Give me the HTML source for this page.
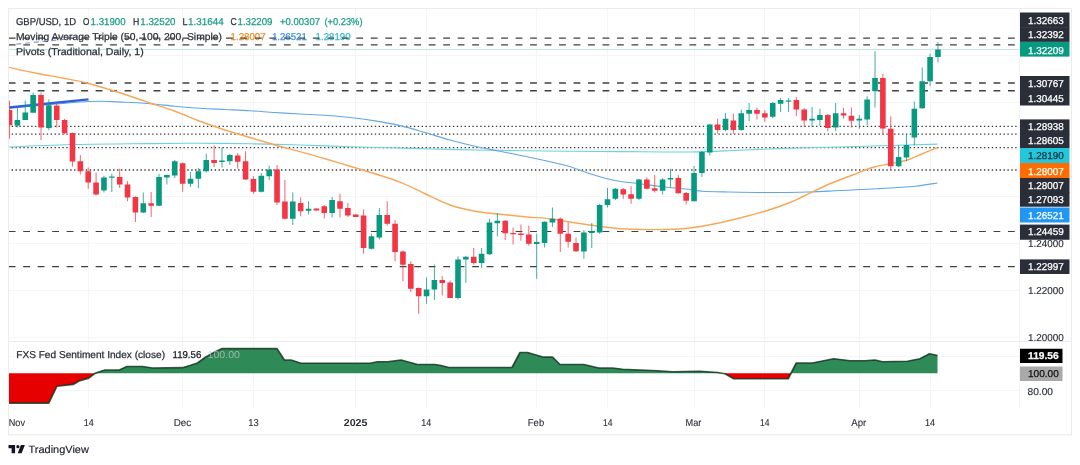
<!DOCTYPE html>
<html><head><meta charset="utf-8"><title>GBP/USD chart</title>
<style>
html,body{margin:0;padding:0;background:#fff;}
body{width:1080px;height:465px;overflow:hidden;font-family:"Liberation Sans",sans-serif;}
svg{display:block;position:absolute;left:0;top:0;will-change:transform;}
text{font-family:"Liberation Sans",sans-serif;text-rendering:geometricPrecision;}
</style></head><body>
<svg width="1080" height="465" viewBox="0 0 1080 465">
<defs><clipPath id="plot"><rect x="9" y="9" width="1010.5" height="402"/></clipPath></defs>

<g stroke="#f5f5f6" stroke-width="1" fill="none">
<path d="M88.5 9V408"/>
<path d="M182.5 9V408"/>
<path d="M253.5 9V408"/>
<path d="M355.5 9V408"/>
<path d="M426.5 9V408"/>
<path d="M536.5 9V408"/>
<path d="M607.5 9V408"/>
<path d="M694.5 9V408"/>
<path d="M764.5 9V408"/>
<path d="M859.5 9V408"/>
<path d="M930.5 9V408"/>
<path d="M9 55.5H1019"/>
<path d="M9 102.5H1019"/>
<path d="M9 149.5H1019"/>
<path d="M9 196.5H1019"/>
<path d="M9 243.5H1019"/>
<path d="M9 290.5H1019"/>
<path d="M9 337.5H1019"/>
<path d="M9 356.5H1019"/>
<path d="M9 390.5H1019"/>
</g>
<g stroke="#ececee" stroke-width="1" fill="none">
<rect x="8.5" y="8.5" width="1063" height="426.3"/>
<path d="M1019.5 9V408" stroke="#f3f3f4"/>
<path d="M9 341.5H1071"/>
</g>
<path d="M9 49.5H1019" stroke="#c4e6e1" stroke-width="1" fill="none"/>
<text x="16.00" y="25.00" font-size="10" fill="#2a2e39" font-weight="normal" text-anchor="start" stroke="#2a2e39" stroke-width="0.25" textLength="60.00" lengthAdjust="spacingAndGlyphs">GBP/USD, 1D</text>
<text x="83.10" y="25.00" font-size="10" fill="#2a2e39" font-weight="normal" text-anchor="start" stroke="#2a2e39" stroke-width="0.25" textLength="6.30" lengthAdjust="spacingAndGlyphs">O</text>
<text x="90.60" y="25.00" font-size="10" fill="#1a9c88" font-weight="normal" text-anchor="start" stroke="#1a9c88" stroke-width="0.25" textLength="35.00" lengthAdjust="spacingAndGlyphs">1.31900</text>
<text x="133.10" y="25.00" font-size="10" fill="#2a2e39" font-weight="normal" text-anchor="start" stroke="#2a2e39" stroke-width="0.25" textLength="6.30" lengthAdjust="spacingAndGlyphs">H</text>
<text x="140.25" y="25.00" font-size="10" fill="#1a9c88" font-weight="normal" text-anchor="start" stroke="#1a9c88" stroke-width="0.25" textLength="35.30" lengthAdjust="spacingAndGlyphs">1.32520</text>
<text x="182.50" y="25.00" font-size="10" fill="#2a2e39" font-weight="normal" text-anchor="start" stroke="#2a2e39" stroke-width="0.25" textLength="5.00" lengthAdjust="spacingAndGlyphs">L</text>
<text x="188.10" y="25.00" font-size="10" fill="#1a9c88" font-weight="normal" text-anchor="start" stroke="#1a9c88" stroke-width="0.25" textLength="35.60" lengthAdjust="spacingAndGlyphs">1.31644</text>
<text x="230.60" y="25.00" font-size="10" fill="#2a2e39" font-weight="normal" text-anchor="start" stroke="#2a2e39" stroke-width="0.25" textLength="6.30" lengthAdjust="spacingAndGlyphs">C</text>
<text x="237.50" y="25.00" font-size="10" fill="#1a9c88" font-weight="normal" text-anchor="start" stroke="#1a9c88" stroke-width="0.25" textLength="35.00" lengthAdjust="spacingAndGlyphs">1.32209</text>
<text x="280.00" y="25.00" font-size="10" fill="#1a9c88" font-weight="normal" text-anchor="start" stroke="#1a9c88" stroke-width="0.25" textLength="40.00" lengthAdjust="spacingAndGlyphs">+0.00307</text>
<text x="324.40" y="25.00" font-size="10" fill="#1a9c88" font-weight="normal" text-anchor="start" stroke="#1a9c88" stroke-width="0.25" textLength="38.10" lengthAdjust="spacingAndGlyphs">(+0.23%)</text>
<text x="16.00" y="39.70" font-size="10" fill="#2a2e39" font-weight="normal" text-anchor="start" stroke="#2a2e39" stroke-width="0.25" textLength="205.90" lengthAdjust="spacingAndGlyphs">Moving Average Triple (50, 100, 200, Simple)</text>
<text x="230.60" y="39.70" font-size="10" fill="#f08a24" font-weight="normal" text-anchor="start" stroke="#f08a24" stroke-width="0.25" textLength="35.00" lengthAdjust="spacingAndGlyphs">1.28007</text>
<text x="271.90" y="39.70" font-size="10" fill="#3a8fe0" font-weight="normal" text-anchor="start" stroke="#3a8fe0" stroke-width="0.25" textLength="35.00" lengthAdjust="spacingAndGlyphs">1.26521</text>
<text x="315.60" y="39.70" font-size="10" fill="#35b8d0" font-weight="normal" text-anchor="start" stroke="#35b8d0" stroke-width="0.25" textLength="35.00" lengthAdjust="spacingAndGlyphs">1.28190</text>
<text x="16.00" y="55.00" font-size="10" fill="#2a2e39" font-weight="normal" text-anchor="start" stroke="#2a2e39" stroke-width="0.25" textLength="127.75" lengthAdjust="spacingAndGlyphs">Pivots (Traditional, Daily, 1)</text>
<g clip-path="url(#plot)">
<path d="M8.75 38.10H1016" stroke="#404040" stroke-width="1.4" stroke-dasharray="6.8 7.682" fill="none"/>
<path d="M8.75 44.90H1016" stroke="#404040" stroke-width="1.4" stroke-dasharray="6.8 7.682" fill="none"/>
<path d="M8.75 83.00H1016" stroke="#404040" stroke-width="1.4" stroke-dasharray="6.8 7.682" fill="none"/>
<path d="M8.75 90.70H1016" stroke="#404040" stroke-width="1.4" stroke-dasharray="6.8 7.682" fill="none"/>
<path d="M8.75 231.50H1016" stroke="#404040" stroke-width="1.1" stroke-dasharray="6.8 7.682" fill="none"/>
<path d="M8.75 266.60H1016" stroke="#404040" stroke-width="1.1" stroke-dasharray="6.8 7.682" fill="none"/>
<path d="M7.7 126.40H1018.6" stroke="#3a3a3a" stroke-width="1.3" stroke-dasharray="1.4 2.505" fill="none"/>
<path d="M7.7 134.10H1018.6" stroke="#3a3a3a" stroke-width="1.3" stroke-dasharray="1.4 2.505" fill="none"/>
<path d="M7.7 147.60H1018.6" stroke="#3a3a3a" stroke-width="1.3" stroke-dasharray="1.4 2.505" fill="none"/>
<path d="M7.7 170.00H1018.6" stroke="#3a3a3a" stroke-width="1.3" stroke-dasharray="1.4 2.505" fill="none"/>
<path d="M8.50 147.00 C19.58 146.58 51.42 145.07 75.00 144.50 C98.58 143.93 129.17 143.81 150.00 143.60 C170.83 143.39 183.33 143.22 200.00 143.25 C216.67 143.28 233.33 143.46 250.00 143.75 C266.67 144.04 283.33 144.50 300.00 145.00 C316.67 145.50 333.33 146.25 350.00 146.75 C366.67 147.25 387.50 147.67 400.00 148.00 C412.50 148.33 412.50 148.42 425.00 148.75 C437.50 149.08 458.33 149.67 475.00 150.00 C491.67 150.33 509.38 150.54 525.00 150.75 C540.62 150.96 552.92 151.11 568.75 151.25 C584.58 151.39 599.79 151.47 620.00 151.60 C640.21 151.72 670.00 152.23 690.00 152.00 C710.00 151.77 723.33 150.82 740.00 150.20 C756.67 149.57 773.33 148.78 790.00 148.25 C806.67 147.72 823.33 147.46 840.00 147.00 C856.67 146.54 873.75 145.98 890.00 145.50 C906.25 145.02 929.58 144.33 937.50 144.10" stroke="#6ad2e0" stroke-width="1.1" fill="none" stroke-linejoin="round"/>
<path d="M8.50 108.30 C21.88 107.17 69.33 102.50 88.75 101.50 C108.17 100.50 114.79 101.92 125.00 102.30 C135.21 102.67 141.67 103.09 150.00 103.75 C158.33 104.41 166.67 105.50 175.00 106.25 C183.33 107.00 191.67 107.71 200.00 108.25 C208.33 108.79 216.67 109.08 225.00 109.50 C233.33 109.92 241.67 110.25 250.00 110.75 C258.33 111.25 266.67 111.96 275.00 112.50 C283.33 113.04 291.67 113.53 300.00 114.00 C308.33 114.47 316.67 114.72 325.00 115.30 C333.33 115.88 341.67 116.57 350.00 117.50 C358.33 118.43 366.67 119.55 375.00 120.90 C383.33 122.25 391.67 123.67 400.00 125.60 C408.33 127.53 416.67 130.10 425.00 132.50 C433.33 134.90 441.67 137.71 450.00 140.00 C458.33 142.29 466.67 144.38 475.00 146.25 C483.33 148.12 491.67 149.58 500.00 151.25 C508.33 152.92 516.67 154.50 525.00 156.25 C533.33 158.00 542.71 160.08 550.00 161.75 C557.29 163.42 562.08 164.25 568.75 166.25 C575.42 168.25 582.29 171.38 590.00 173.75 C597.71 176.12 606.67 178.83 615.00 180.50 C623.33 182.17 631.67 182.67 640.00 183.75 C648.33 184.83 656.67 186.04 665.00 187.00 C673.33 187.96 683.75 188.79 690.00 189.50 C696.25 190.21 696.25 190.83 702.50 191.25 C708.75 191.67 717.08 191.79 727.50 192.00 C737.92 192.21 751.46 192.50 765.00 192.50 C778.54 192.50 796.25 192.33 808.75 192.00 C821.25 191.67 828.54 191.04 840.00 190.50 C851.46 189.96 865.00 189.46 877.50 188.75 C890.00 188.04 905.00 187.21 915.00 186.25 C925.00 185.29 933.75 183.54 937.50 183.00" stroke="#62a7e3" stroke-width="1.15" fill="none" stroke-linejoin="round"/>
<path d="M8.50 67.30 C13.33 68.33 28.50 71.72 37.50 73.50 C46.50 75.28 54.58 76.50 62.50 78.00 C70.42 79.50 76.67 80.42 85.00 82.50 C93.33 84.58 103.33 87.67 112.50 90.50 C121.67 93.33 133.75 97.42 140.00 99.50 C146.25 101.58 144.17 101.04 150.00 103.00 C155.83 104.96 166.67 108.21 175.00 111.25 C183.33 114.29 191.67 118.12 200.00 121.25 C208.33 124.38 216.67 127.29 225.00 130.00 C233.33 132.71 241.67 135.00 250.00 137.50 C258.33 140.00 266.67 142.65 275.00 145.00 C283.33 147.35 291.67 149.31 300.00 151.60 C308.33 153.89 316.67 156.31 325.00 158.75 C333.33 161.19 341.67 163.75 350.00 166.25 C358.33 168.75 366.67 171.09 375.00 173.75 C383.33 176.41 391.67 178.87 400.00 182.20 C408.33 185.53 416.67 189.95 425.00 193.75 C433.33 197.55 441.67 202.08 450.00 205.00 C458.33 207.92 466.67 209.72 475.00 211.25 C483.33 212.78 491.67 213.28 500.00 214.20 C508.33 215.12 516.67 215.99 525.00 216.75 C533.33 217.51 543.33 218.00 550.00 218.75 C556.67 219.50 558.33 220.21 565.00 221.25 C571.67 222.29 581.67 223.83 590.00 225.00 C598.33 226.17 606.67 227.50 615.00 228.25 C623.33 229.00 631.67 229.29 640.00 229.50 C648.33 229.71 656.67 229.75 665.00 229.50 C673.33 229.25 681.67 228.96 690.00 228.00 C698.33 227.04 706.67 225.42 715.00 223.75 C723.33 222.08 731.67 220.08 740.00 218.00 C748.33 215.92 756.67 213.83 765.00 211.25 C773.33 208.67 783.33 205.12 790.00 202.50 C796.67 199.88 798.33 198.62 805.00 195.50 C811.67 192.38 822.08 187.17 830.00 183.75 C837.92 180.33 845.42 177.71 852.50 175.00 C859.58 172.29 866.25 169.38 872.50 167.50 C878.75 165.62 884.17 165.00 890.00 163.75 C895.83 162.50 902.08 161.67 907.50 160.00 C912.92 158.33 917.50 155.82 922.50 153.75 C927.50 151.68 935.00 148.62 937.50 147.60" stroke="#f5a85a" stroke-width="1.4" fill="none" stroke-linejoin="round"/>
<path d="M8.7 107.5L88.5 99.4" stroke="#2f62d9" stroke-width="2.4" fill="none"/>
<path d="M7.5 45L70 38.75" stroke="#5577d8" stroke-width="1.2" stroke-dasharray="5 3.8" fill="none" opacity="0.75"/>
<path d="M9.53 100.60V138.75" stroke="#f23645" stroke-width="0.78"/>
<rect x="6.73" y="110.00" width="5.60" height="15.25" fill="#f23645"/>
<path d="M17.40 106.90V127.50" stroke="#089981" stroke-width="0.78"/>
<rect x="14.60" y="120.00" width="5.60" height="5.60" fill="#089981"/>
<path d="M25.27 100.60V120.00" stroke="#089981" stroke-width="0.78"/>
<rect x="22.47" y="112.50" width="5.60" height="7.50" fill="#089981"/>
<path d="M33.14 92.50V112.75" stroke="#089981" stroke-width="0.78"/>
<rect x="30.34" y="95.00" width="5.60" height="17.75" fill="#089981"/>
<path d="M41.00 92.50V140.00" stroke="#f23645" stroke-width="0.78"/>
<rect x="38.20" y="95.00" width="5.60" height="32.50" fill="#f23645"/>
<path d="M48.87 99.40V130.25" stroke="#089981" stroke-width="0.78"/>
<rect x="46.07" y="105.25" width="5.60" height="22.85" fill="#089981"/>
<path d="M56.74 103.75V127.50" stroke="#f23645" stroke-width="0.78"/>
<rect x="53.94" y="105.60" width="5.60" height="14.40" fill="#f23645"/>
<path d="M64.61 118.75V134.40" stroke="#f23645" stroke-width="0.78"/>
<rect x="61.81" y="120.00" width="5.60" height="13.10" fill="#f23645"/>
<path d="M72.48 132.50V166.50" stroke="#f23645" stroke-width="0.78"/>
<rect x="69.68" y="133.00" width="5.60" height="28.50" fill="#f23645"/>
<path d="M80.34 155.00V174.50" stroke="#f23645" stroke-width="0.78"/>
<rect x="77.54" y="161.25" width="5.60" height="10.00" fill="#f23645"/>
<path d="M88.21 167.50V188.75" stroke="#f23645" stroke-width="0.78"/>
<rect x="85.41" y="171.25" width="5.60" height="11.25" fill="#f23645"/>
<path d="M96.08 172.50V195.50" stroke="#f23645" stroke-width="0.78"/>
<rect x="93.28" y="182.50" width="5.60" height="12.00" fill="#f23645"/>
<path d="M103.95 175.75V192.50" stroke="#089981" stroke-width="0.78"/>
<rect x="101.15" y="177.50" width="5.60" height="13.00" fill="#089981"/>
<path d="M111.82 173.75V192.00" stroke="#089981" stroke-width="0.78"/>
<rect x="109.02" y="176.50" width="5.60" height="1.20" fill="#089981"/>
<path d="M119.68 168.75V188.00" stroke="#f23645" stroke-width="0.78"/>
<rect x="116.88" y="177.00" width="5.60" height="7.50" fill="#f23645"/>
<path d="M127.55 181.25V201.25" stroke="#f23645" stroke-width="0.78"/>
<rect x="124.75" y="184.50" width="5.60" height="13.00" fill="#f23645"/>
<path d="M135.42 196.25V222.00" stroke="#f23645" stroke-width="0.78"/>
<rect x="132.62" y="197.00" width="5.60" height="15.50" fill="#f23645"/>
<path d="M143.29 192.50V213.00" stroke="#089981" stroke-width="0.78"/>
<rect x="140.49" y="203.25" width="5.60" height="9.25" fill="#089981"/>
<path d="M151.16 192.00V217.00" stroke="#f23645" stroke-width="0.78"/>
<rect x="148.36" y="203.25" width="5.60" height="2.50" fill="#f23645"/>
<path d="M159.02 173.75V206.25" stroke="#089981" stroke-width="0.78"/>
<rect x="156.22" y="177.00" width="5.60" height="28.75" fill="#089981"/>
<path d="M166.89 174.50V184.50" stroke="#089981" stroke-width="0.78"/>
<rect x="164.09" y="175.00" width="5.60" height="2.50" fill="#089981"/>
<path d="M174.76 160.00V178.00" stroke="#089981" stroke-width="0.78"/>
<rect x="171.96" y="161.25" width="5.60" height="14.25" fill="#089981"/>
<path d="M182.63 162.50V191.75" stroke="#f23645" stroke-width="0.78"/>
<rect x="179.83" y="163.25" width="5.60" height="20.50" fill="#f23645"/>
<path d="M190.50 172.00V187.00" stroke="#089981" stroke-width="0.78"/>
<rect x="187.70" y="178.75" width="5.60" height="5.00" fill="#089981"/>
<path d="M198.36 168.00V188.25" stroke="#089981" stroke-width="0.78"/>
<rect x="195.56" y="171.25" width="5.60" height="7.50" fill="#089981"/>
<path d="M206.23 153.75V172.50" stroke="#089981" stroke-width="0.78"/>
<rect x="203.43" y="160.00" width="5.60" height="11.25" fill="#089981"/>
<path d="M214.10 145.50V167.00" stroke="#f23645" stroke-width="0.78"/>
<rect x="211.30" y="160.00" width="5.60" height="3.00" fill="#f23645"/>
<path d="M221.97 147.50V167.50" stroke="#089981" stroke-width="0.78"/>
<rect x="219.17" y="160.50" width="5.60" height="1.50" fill="#089981"/>
<path d="M229.84 153.75V165.00" stroke="#089981" stroke-width="0.78"/>
<rect x="227.04" y="155.00" width="5.60" height="6.25" fill="#089981"/>
<path d="M237.70 153.00V168.75" stroke="#f23645" stroke-width="0.78"/>
<rect x="234.90" y="155.50" width="5.60" height="6.25" fill="#f23645"/>
<path d="M245.57 151.25V180.00" stroke="#f23645" stroke-width="0.78"/>
<rect x="242.77" y="161.25" width="5.60" height="18.25" fill="#f23645"/>
<path d="M253.44 176.25V193.75" stroke="#f23645" stroke-width="0.78"/>
<rect x="250.64" y="179.00" width="5.60" height="12.75" fill="#f23645"/>
<path d="M261.31 173.00V192.50" stroke="#089981" stroke-width="0.78"/>
<rect x="258.51" y="175.75" width="5.60" height="16.00" fill="#089981"/>
<path d="M269.18 165.50V180.00" stroke="#089981" stroke-width="0.78"/>
<rect x="266.38" y="169.50" width="5.60" height="6.75" fill="#089981"/>
<path d="M277.04 165.00V205.00" stroke="#f23645" stroke-width="0.78"/>
<rect x="274.24" y="169.50" width="5.60" height="33.00" fill="#f23645"/>
<path d="M284.91 180.00V219.50" stroke="#f23645" stroke-width="0.78"/>
<rect x="282.11" y="201.50" width="5.60" height="17.25" fill="#f23645"/>
<path d="M292.78 192.50V225.00" stroke="#089981" stroke-width="0.78"/>
<rect x="289.98" y="201.50" width="5.60" height="17.25" fill="#089981"/>
<path d="M300.65 197.50V216.25" stroke="#f23645" stroke-width="0.78"/>
<rect x="297.85" y="203.00" width="5.60" height="8.25" fill="#f23645"/>
<path d="M308.52 201.25V214.50" stroke="#089981" stroke-width="0.78"/>
<rect x="305.72" y="208.75" width="5.60" height="2.00" fill="#089981"/>
<path d="M316.38 208.50V210.50" stroke="#f23645" stroke-width="0.78"/>
<rect x="313.58" y="208.50" width="5.60" height="2.00" fill="#f23645"/>
<path d="M324.25 205.00V218.50" stroke="#f23645" stroke-width="0.78"/>
<rect x="321.45" y="206.25" width="5.60" height="6.75" fill="#f23645"/>
<path d="M332.12 197.00V217.50" stroke="#089981" stroke-width="0.78"/>
<rect x="329.32" y="200.00" width="5.60" height="13.00" fill="#089981"/>
<path d="M339.99 193.75V217.50" stroke="#f23645" stroke-width="0.78"/>
<rect x="337.19" y="201.25" width="5.60" height="7.50" fill="#f23645"/>
<path d="M347.86 203.00V217.00" stroke="#f23645" stroke-width="0.78"/>
<rect x="345.06" y="208.00" width="5.60" height="7.50" fill="#f23645"/>
<path d="M355.72 214.50V217.00" stroke="#f23645" stroke-width="0.78"/>
<rect x="352.92" y="214.50" width="5.60" height="2.50" fill="#f23645"/>
<path d="M363.59 209.50V253.75" stroke="#f23645" stroke-width="0.78"/>
<rect x="360.79" y="215.50" width="5.60" height="32.50" fill="#f23645"/>
<path d="M371.46 233.75V249.50" stroke="#089981" stroke-width="0.78"/>
<rect x="368.66" y="236.25" width="5.60" height="12.50" fill="#089981"/>
<path d="M379.33 208.00V239.50" stroke="#089981" stroke-width="0.78"/>
<rect x="376.53" y="215.00" width="5.60" height="22.50" fill="#089981"/>
<path d="M387.20 201.25V225.50" stroke="#f23645" stroke-width="0.78"/>
<rect x="384.40" y="215.00" width="5.60" height="8.75" fill="#f23645"/>
<path d="M395.06 220.00V261.25" stroke="#f23645" stroke-width="0.78"/>
<rect x="392.26" y="223.75" width="5.60" height="28.25" fill="#f23645"/>
<path d="M402.93 250.25V281.25" stroke="#f23645" stroke-width="0.78"/>
<rect x="400.13" y="251.50" width="5.60" height="13.25" fill="#f23645"/>
<path d="M410.80 261.25V292.00" stroke="#f23645" stroke-width="0.78"/>
<rect x="408.00" y="264.00" width="5.60" height="24.75" fill="#f23645"/>
<path d="M418.67 287.50V313.75" stroke="#f23645" stroke-width="0.78"/>
<rect x="415.87" y="288.00" width="5.60" height="8.25" fill="#f23645"/>
<path d="M426.54 277.50V303.75" stroke="#089981" stroke-width="0.78"/>
<rect x="423.74" y="289.50" width="5.60" height="6.75" fill="#089981"/>
<path d="M434.40 264.50V300.00" stroke="#089981" stroke-width="0.78"/>
<rect x="431.60" y="280.00" width="5.60" height="9.50" fill="#089981"/>
<path d="M442.27 276.25V295.50" stroke="#f23645" stroke-width="0.78"/>
<rect x="439.47" y="280.00" width="5.60" height="3.00" fill="#f23645"/>
<path d="M450.14 280.50V298.00" stroke="#f23645" stroke-width="0.78"/>
<rect x="447.34" y="282.50" width="5.60" height="15.50" fill="#f23645"/>
<path d="M458.01 256.25V299.50" stroke="#089981" stroke-width="0.78"/>
<rect x="455.21" y="259.50" width="5.60" height="38.50" fill="#089981"/>
<path d="M465.88 256.25V283.00" stroke="#089981" stroke-width="0.78"/>
<rect x="463.08" y="256.75" width="5.60" height="2.75" fill="#089981"/>
<path d="M473.74 248.00V264.50" stroke="#f23645" stroke-width="0.78"/>
<rect x="470.94" y="256.75" width="5.60" height="6.25" fill="#f23645"/>
<path d="M481.61 248.00V268.00" stroke="#089981" stroke-width="0.78"/>
<rect x="478.81" y="253.75" width="5.60" height="9.25" fill="#089981"/>
<path d="M489.48 218.75V255.00" stroke="#089981" stroke-width="0.78"/>
<rect x="486.68" y="222.50" width="5.60" height="31.75" fill="#089981"/>
<path d="M497.35 213.00V236.25" stroke="#089981" stroke-width="0.78"/>
<rect x="494.55" y="220.75" width="5.60" height="2.50" fill="#089981"/>
<path d="M505.22 220.00V240.00" stroke="#f23645" stroke-width="0.78"/>
<rect x="502.42" y="220.75" width="5.60" height="12.50" fill="#f23645"/>
<path d="M513.08 227.50V244.50" stroke="#f23645" stroke-width="0.78"/>
<rect x="510.28" y="233.00" width="5.60" height="1.20" fill="#f23645"/>
<path d="M520.95 224.50V240.75" stroke="#f23645" stroke-width="0.78"/>
<rect x="518.15" y="233.50" width="5.60" height="1.50" fill="#f23645"/>
<path d="M528.82 225.50V245.50" stroke="#f23645" stroke-width="0.78"/>
<rect x="526.02" y="234.50" width="5.60" height="9.25" fill="#f23645"/>
<path d="M536.69 233.75V278.75" stroke="#089981" stroke-width="0.78"/>
<rect x="533.89" y="242.00" width="5.60" height="2.00" fill="#089981"/>
<path d="M544.56 221.25V247.50" stroke="#089981" stroke-width="0.78"/>
<rect x="541.76" y="221.75" width="5.60" height="21.25" fill="#089981"/>
<path d="M552.42 207.50V227.00" stroke="#089981" stroke-width="0.78"/>
<rect x="549.62" y="218.75" width="5.60" height="3.75" fill="#089981"/>
<path d="M560.29 217.50V252.00" stroke="#f23645" stroke-width="0.78"/>
<rect x="557.49" y="218.75" width="5.60" height="15.00" fill="#f23645"/>
<path d="M568.16 222.50V247.50" stroke="#f23645" stroke-width="0.78"/>
<rect x="565.36" y="233.75" width="5.60" height="8.00" fill="#f23645"/>
<path d="M576.03 237.50V252.00" stroke="#f23645" stroke-width="0.78"/>
<rect x="573.23" y="243.00" width="5.60" height="8.25" fill="#f23645"/>
<path d="M583.90 230.00V258.75" stroke="#089981" stroke-width="0.78"/>
<rect x="581.10" y="232.50" width="5.60" height="19.00" fill="#089981"/>
<path d="M591.76 223.00V248.00" stroke="#089981" stroke-width="0.78"/>
<rect x="588.96" y="231.25" width="5.60" height="1.75" fill="#089981"/>
<path d="M599.63 203.75V233.75" stroke="#089981" stroke-width="0.78"/>
<rect x="596.83" y="205.00" width="5.60" height="27.50" fill="#089981"/>
<path d="M607.50 188.00V207.50" stroke="#089981" stroke-width="0.78"/>
<rect x="604.70" y="199.25" width="5.60" height="5.75" fill="#089981"/>
<path d="M615.37 188.00V200.00" stroke="#089981" stroke-width="0.78"/>
<rect x="612.57" y="188.75" width="5.60" height="10.00" fill="#089981"/>
<path d="M623.24 188.00V198.75" stroke="#f23645" stroke-width="0.78"/>
<rect x="620.44" y="189.25" width="5.60" height="5.25" fill="#f23645"/>
<path d="M631.10 186.25V203.75" stroke="#f23645" stroke-width="0.78"/>
<rect x="628.30" y="194.25" width="5.60" height="4.50" fill="#f23645"/>
<path d="M638.97 178.75V200.00" stroke="#089981" stroke-width="0.78"/>
<rect x="636.17" y="179.50" width="5.60" height="19.25" fill="#089981"/>
<path d="M646.84 177.50V189.50" stroke="#f23645" stroke-width="0.78"/>
<rect x="644.04" y="179.50" width="5.60" height="9.25" fill="#f23645"/>
<path d="M654.71 175.00V192.50" stroke="#f23645" stroke-width="0.78"/>
<rect x="651.91" y="188.25" width="5.60" height="2.50" fill="#f23645"/>
<path d="M662.58 178.00V194.50" stroke="#089981" stroke-width="0.78"/>
<rect x="659.78" y="179.50" width="5.60" height="11.25" fill="#089981"/>
<path d="M670.44 168.75V187.50" stroke="#089981" stroke-width="0.78"/>
<rect x="667.64" y="178.00" width="5.60" height="1.50" fill="#089981"/>
<path d="M678.31 175.00V193.75" stroke="#f23645" stroke-width="0.78"/>
<rect x="675.51" y="178.00" width="5.60" height="15.25" fill="#f23645"/>
<path d="M686.18 192.00V204.50" stroke="#f23645" stroke-width="0.78"/>
<rect x="683.38" y="193.00" width="5.60" height="7.75" fill="#f23645"/>
<path d="M694.05 166.00V201.25" stroke="#089981" stroke-width="0.78"/>
<rect x="691.25" y="173.00" width="5.60" height="28.25" fill="#089981"/>
<path d="M701.92 150.75V177.00" stroke="#089981" stroke-width="0.78"/>
<rect x="699.12" y="152.00" width="5.60" height="21.00" fill="#089981"/>
<path d="M709.78 123.75V155.50" stroke="#089981" stroke-width="0.78"/>
<rect x="706.98" y="124.50" width="5.60" height="28.00" fill="#089981"/>
<path d="M717.65 118.75V133.75" stroke="#f23645" stroke-width="0.78"/>
<rect x="714.85" y="124.50" width="5.60" height="5.50" fill="#f23645"/>
<path d="M725.52 113.00V131.25" stroke="#089981" stroke-width="0.78"/>
<rect x="722.72" y="118.75" width="5.60" height="11.25" fill="#089981"/>
<path d="M733.39 113.75V133.75" stroke="#f23645" stroke-width="0.78"/>
<rect x="730.59" y="120.50" width="5.60" height="9.50" fill="#f23645"/>
<path d="M741.26 109.50V130.75" stroke="#089981" stroke-width="0.78"/>
<rect x="738.46" y="113.25" width="5.60" height="16.75" fill="#089981"/>
<path d="M749.12 103.00V121.25" stroke="#089981" stroke-width="0.78"/>
<rect x="746.32" y="110.00" width="5.60" height="3.75" fill="#089981"/>
<path d="M756.99 107.50V119.50" stroke="#f23645" stroke-width="0.78"/>
<rect x="754.19" y="110.00" width="5.60" height="3.75" fill="#f23645"/>
<path d="M764.86 110.00V122.00" stroke="#f23645" stroke-width="0.78"/>
<rect x="762.06" y="113.25" width="5.60" height="4.25" fill="#f23645"/>
<path d="M772.73 102.00V118.00" stroke="#089981" stroke-width="0.78"/>
<rect x="769.93" y="103.00" width="5.60" height="13.75" fill="#089981"/>
<path d="M780.60 98.00V112.00" stroke="#089981" stroke-width="0.78"/>
<rect x="777.80" y="100.00" width="5.60" height="3.75" fill="#089981"/>
<path d="M788.46 98.00V112.00" stroke="#089981" stroke-width="0.78"/>
<rect x="785.66" y="100.50" width="5.60" height="1.20" fill="#089981"/>
<path d="M796.33 97.00V116.25" stroke="#f23645" stroke-width="0.78"/>
<rect x="793.53" y="100.00" width="5.60" height="9.50" fill="#f23645"/>
<path d="M804.20 108.00V127.00" stroke="#f23645" stroke-width="0.78"/>
<rect x="801.40" y="109.50" width="5.60" height="11.00" fill="#f23645"/>
<path d="M812.07 107.00V127.00" stroke="#089981" stroke-width="0.78"/>
<rect x="809.27" y="118.75" width="5.60" height="1.75" fill="#089981"/>
<path d="M819.94 108.75V125.50" stroke="#089981" stroke-width="0.78"/>
<rect x="817.14" y="115.00" width="5.60" height="5.00" fill="#089981"/>
<path d="M827.80 113.75V131.25" stroke="#f23645" stroke-width="0.78"/>
<rect x="825.00" y="115.00" width="5.60" height="13.00" fill="#f23645"/>
<path d="M835.67 103.00V131.25" stroke="#089981" stroke-width="0.78"/>
<rect x="832.87" y="113.25" width="5.60" height="14.25" fill="#089981"/>
<path d="M843.54 108.00V118.75" stroke="#f23645" stroke-width="0.78"/>
<rect x="840.74" y="113.25" width="5.60" height="2.25" fill="#f23645"/>
<path d="M851.41 107.50V127.50" stroke="#f23645" stroke-width="0.78"/>
<rect x="848.61" y="115.75" width="5.60" height="5.00" fill="#f23645"/>
<path d="M859.28 115.00V128.75" stroke="#089981" stroke-width="0.78"/>
<rect x="856.48" y="118.75" width="5.60" height="1.75" fill="#089981"/>
<path d="M867.14 96.25V125.00" stroke="#089981" stroke-width="0.78"/>
<rect x="864.34" y="99.50" width="5.60" height="20.00" fill="#089981"/>
<path d="M875.01 51.25V107.50" stroke="#089981" stroke-width="0.78"/>
<rect x="872.21" y="78.00" width="5.60" height="13.25" fill="#089981"/>
<path d="M882.88 73.75V135.00" stroke="#f23645" stroke-width="0.78"/>
<rect x="880.08" y="78.00" width="5.60" height="50.50" fill="#f23645"/>
<path d="M890.75 116.25V170.00" stroke="#f23645" stroke-width="0.78"/>
<rect x="887.95" y="128.75" width="5.60" height="37.50" fill="#f23645"/>
<path d="M898.62 145.00V167.00" stroke="#089981" stroke-width="0.78"/>
<rect x="895.82" y="157.00" width="5.60" height="9.25" fill="#089981"/>
<path d="M906.48 133.75V161.25" stroke="#089981" stroke-width="0.78"/>
<rect x="903.68" y="145.00" width="5.60" height="12.50" fill="#089981"/>
<path d="M914.35 101.50V145.50" stroke="#089981" stroke-width="0.78"/>
<rect x="911.55" y="108.75" width="5.60" height="28.75" fill="#089981"/>
<path d="M922.22 67.50V108.75" stroke="#089981" stroke-width="0.78"/>
<rect x="919.42" y="81.25" width="5.60" height="27.00" fill="#089981"/>
<path d="M930.09 53.75V86.25" stroke="#089981" stroke-width="0.78"/>
<rect x="927.29" y="57.00" width="5.60" height="24.25" fill="#089981"/>
<path d="M937.96 42.00V62.50" stroke="#089981" stroke-width="0.78"/>
<rect x="935.16" y="49.50" width="5.60" height="7.50" fill="#089981"/>
<path d="M8.50 373.30 L8.50 403.10 L48.75 403.10 L56.90 386.25 L73.10 384.40 L80.00 380.60 L88.75 378.10 L95.00 373.40 L95.29 373.30 L95.29 373.30 Z" fill="#e60000"/>
<path d="M95.29 373.30 L95.29 373.30 L105.00 370.00 L119.40 370.00 L126.90 366.50 L142.50 366.50 L152.50 368.00 L182.50 367.70 L190.00 365.50 L197.50 363.00 L205.00 357.50 L213.00 353.00 L222.00 348.60 L277.00 348.60 L284.40 360.00 L291.00 360.00 L301.00 363.25 L370.00 363.25 L377.50 361.75 L387.50 361.75 L401.00 360.00 L417.50 364.50 L435.00 364.50 L441.00 365.50 L448.75 367.50 L512.00 367.50 L520.00 352.50 L527.50 352.50 L536.00 355.00 L544.00 357.20 L552.50 357.20 L560.00 364.50 L583.75 364.50 L598.75 368.00 L612.50 368.00 L622.50 369.25 L640.00 370.00 L657.50 370.75 L672.50 371.75 L700.00 371.25 L717.50 372.50 L722.30 373.30 L722.30 373.30 Z" fill="#2e8b57"/>
<path d="M722.30 373.30 L722.30 373.30 L725.00 373.75 L733.75 378.75 L788.25 378.75 L790.75 373.75 L790.98 373.30 L790.98 373.30 Z" fill="#e60000"/>
<path d="M790.98 373.30 L790.98 373.30 L796.25 363.00 L812.50 363.00 L833.75 358.75 L850.00 360.75 L865.00 360.75 L875.00 360.00 L882.50 361.75 L907.50 361.25 L920.00 358.75 L929.50 353.75 L937.50 355.50 L937.50 373.30 Z" fill="#2e8b57"/>
<path d="M8.50 403.10 L48.75 403.10 L56.90 386.25 L73.10 384.40 L80.00 380.60 L88.75 378.10 L95.00 373.40 L105.00 370.00 L119.40 370.00 L126.90 366.50 L142.50 366.50 L152.50 368.00 L182.50 367.70 L190.00 365.50 L197.50 363.00 L205.00 357.50 L213.00 353.00 L222.00 348.60 L277.00 348.60 L284.40 360.00 L291.00 360.00 L301.00 363.25 L370.00 363.25 L377.50 361.75 L387.50 361.75 L401.00 360.00 L417.50 364.50 L435.00 364.50 L441.00 365.50 L448.75 367.50 L512.00 367.50 L520.00 352.50 L527.50 352.50 L536.00 355.00 L544.00 357.20 L552.50 357.20 L560.00 364.50 L583.75 364.50 L598.75 368.00 L612.50 368.00 L622.50 369.25 L640.00 370.00 L657.50 370.75 L672.50 371.75 L700.00 371.25 L717.50 372.50 L725.00 373.75 L733.75 378.75 L788.25 378.75 L790.75 373.75 L796.25 363.00 L812.50 363.00 L833.75 358.75 L850.00 360.75 L865.00 360.75 L875.00 360.00 L882.50 361.75 L907.50 361.25 L920.00 358.75 L929.50 353.75 L937.50 355.50" stroke="#10301d" stroke-opacity="0.8" stroke-width="1.7" fill="none" stroke-linejoin="round"/>
</g>
<text x="16.25" y="358.00" font-size="10" fill="#2a2e39" font-weight="normal" text-anchor="start" stroke="#2a2e39" stroke-width="0.25" textLength="148.75" lengthAdjust="spacingAndGlyphs">FXS Fed Sentiment Index (close)</text>
<text x="172.50" y="358.00" font-size="10" fill="#131722" font-weight="normal" text-anchor="start" stroke="#131722" stroke-width="0.25" textLength="28.75" lengthAdjust="spacingAndGlyphs">119.56</text>
<text opacity="0.75" x="207.50" y="358.00" font-size="10" fill="#c4c4c4" font-weight="normal" text-anchor="start" textLength="32.50" lengthAdjust="spacingAndGlyphs">100.00</text>
<text x="1028.00" y="246.90" font-size="10" fill="#2a2e39" font-weight="normal" text-anchor="start" stroke="#2a2e39" stroke-width="0.15" textLength="35.75" lengthAdjust="spacingAndGlyphs">1.24000</text>
<text x="1028.00" y="293.75" font-size="10" fill="#2a2e39" font-weight="normal" text-anchor="start" stroke="#2a2e39" stroke-width="0.15" textLength="35.75" lengthAdjust="spacingAndGlyphs">1.22000</text>
<text x="1028.00" y="341.00" font-size="10" fill="#2a2e39" font-weight="normal" text-anchor="start" stroke="#2a2e39" stroke-width="0.15" textLength="35.75" lengthAdjust="spacingAndGlyphs">1.20000</text>
<text x="1027.50" y="395.00" font-size="10" fill="#2a2e39" font-weight="normal" text-anchor="start" stroke="#2a2e39" stroke-width="0.15" textLength="25.50" lengthAdjust="spacingAndGlyphs">80.00</text>
<rect x="1020.00" y="12.50" width="49.50" height="15.20" fill="#2a2e39"/><text x="1028.00" y="23.75" font-size="10" fill="#fff" font-weight="normal" text-anchor="start" stroke="#fff" stroke-width="0.25" textLength="35.75" lengthAdjust="spacingAndGlyphs">1.32663</text>
<rect x="1020.00" y="27.20" width="49.50" height="14.70" fill="#2a2e39"/><text x="1028.00" y="37.90" font-size="10" fill="#fff" font-weight="normal" text-anchor="start" stroke="#fff" stroke-width="0.25" textLength="35.75" lengthAdjust="spacingAndGlyphs">1.32392</text>
<rect x="1020.00" y="41.90" width="49.50" height="14.70" fill="#089981"/><text x="1028.00" y="53.50" font-size="10" fill="#fff" font-weight="normal" text-anchor="start" stroke="#fff" stroke-width="0.25" textLength="35.75" lengthAdjust="spacingAndGlyphs">1.32209</text>
<rect x="1020.00" y="76.00" width="49.50" height="15.20" fill="#2a2e39"/><text x="1028.00" y="87.00" font-size="10" fill="#fff" font-weight="normal" text-anchor="start" stroke="#fff" stroke-width="0.25" textLength="35.75" lengthAdjust="spacingAndGlyphs">1.30767</text>
<rect x="1020.00" y="90.70" width="49.50" height="14.80" fill="#2a2e39"/><text x="1028.00" y="102.00" font-size="10" fill="#fff" font-weight="normal" text-anchor="start" stroke="#fff" stroke-width="0.25" textLength="35.75" lengthAdjust="spacingAndGlyphs">1.30445</text>
<rect x="1020.00" y="119.40" width="49.50" height="15.10" fill="#2a2e39"/><text x="1028.00" y="130.25" font-size="10" fill="#fff" font-weight="normal" text-anchor="start" stroke="#fff" stroke-width="0.25" textLength="35.75" lengthAdjust="spacingAndGlyphs">1.28938</text>
<rect x="1020.00" y="134.00" width="49.50" height="14.00" fill="#2a2e39"/><text x="1028.00" y="144.40" font-size="10" fill="#fff" font-weight="normal" text-anchor="start" stroke="#fff" stroke-width="0.25" textLength="35.75" lengthAdjust="spacingAndGlyphs">1.28605</text>
<rect x="1020.00" y="148.00" width="49.50" height="15.00" fill="#26c6da"/><text x="1028.00" y="159.40" font-size="10" fill="#0c3040" font-weight="normal" text-anchor="start" stroke="#0c3040" stroke-width="0.25" textLength="35.75" lengthAdjust="spacingAndGlyphs">1.28190</text>
<rect x="1020.00" y="163.00" width="49.50" height="15.00" fill="#ff6d00"/><text x="1028.00" y="174.50" font-size="10" fill="#fff" font-weight="normal" text-anchor="start" stroke="#fff" stroke-width="0.25" textLength="35.75" lengthAdjust="spacingAndGlyphs">1.28007</text>
<rect x="1020.00" y="178.00" width="49.50" height="15.00" fill="#2a2e39"/><text x="1028.00" y="189.00" font-size="10" fill="#fff" font-weight="normal" text-anchor="start" stroke="#fff" stroke-width="0.25" textLength="35.75" lengthAdjust="spacingAndGlyphs">1.28007</text>
<rect x="1020.00" y="192.50" width="49.50" height="14.25" fill="#2a2e39"/><text x="1028.00" y="203.25" font-size="10" fill="#fff" font-weight="normal" text-anchor="start" stroke="#fff" stroke-width="0.25" textLength="35.75" lengthAdjust="spacingAndGlyphs">1.27093</text>
<rect x="1020.00" y="207.50" width="49.50" height="15.00" fill="#2196f3"/><text x="1028.00" y="218.75" font-size="10" fill="#fff" font-weight="normal" text-anchor="start" stroke="#fff" stroke-width="0.25" textLength="35.75" lengthAdjust="spacingAndGlyphs">1.26521</text>
<rect x="1020.00" y="224.60" width="49.50" height="15.15" fill="#2a2e39"/><text x="1028.00" y="235.25" font-size="10" fill="#fff" font-weight="normal" text-anchor="start" stroke="#fff" stroke-width="0.25" textLength="35.75" lengthAdjust="spacingAndGlyphs">1.24459</text>
<rect x="1020.00" y="259.40" width="49.50" height="14.60" fill="#2a2e39"/><text x="1028.00" y="270.25" font-size="10" fill="#fff" font-weight="normal" text-anchor="start" stroke="#fff" stroke-width="0.25" textLength="35.75" lengthAdjust="spacingAndGlyphs">1.22997</text>
<rect x="1020.00" y="348.75" width="42.50" height="14.25" fill="#000"/><text x="1028.00" y="359.40" font-size="10" fill="#fff" font-weight="bold" text-anchor="start" stroke="#fff" stroke-width="0.25" textLength="30.75" lengthAdjust="spacingAndGlyphs">119.56</text>
<rect x="1020.00" y="366.50" width="42.50" height="14.50" fill="#a9a9a9"/><text x="1028.00" y="377.25" font-size="10" fill="#111" font-weight="normal" text-anchor="start" stroke="#111" stroke-width="0.25" textLength="30.75" lengthAdjust="spacingAndGlyphs">100.00</text>
<text x="8.75" y="426.10" font-size="10" fill="#2e3038" font-weight="normal" text-anchor="start" stroke="#2e3038" stroke-width="0.12" textLength="16.30" lengthAdjust="spacingAndGlyphs">Nov</text>
<text x="83.70" y="426.10" font-size="10" fill="#2e3038" font-weight="normal" text-anchor="start" stroke="#2e3038" stroke-width="0.12" textLength="10.00" lengthAdjust="spacingAndGlyphs">14</text>
<text x="173.75" y="426.10" font-size="10" fill="#2e3038" font-weight="normal" text-anchor="start" stroke="#2e3038" stroke-width="0.12" textLength="17.50" lengthAdjust="spacingAndGlyphs">Dec</text>
<text x="248.25" y="426.10" font-size="10" fill="#2e3038" font-weight="normal" text-anchor="start" stroke="#2e3038" stroke-width="0.12" textLength="10.50" lengthAdjust="spacingAndGlyphs">13</text>
<text x="343.73" y="426.10" font-size="10" fill="#2e3038" font-weight="bold" text-anchor="start" textLength="23.75" lengthAdjust="spacingAndGlyphs">2025</text>
<text x="421.25" y="426.10" font-size="10" fill="#2e3038" font-weight="normal" text-anchor="start" stroke="#2e3038" stroke-width="0.12" textLength="10.00" lengthAdjust="spacingAndGlyphs">14</text>
<text x="527.85" y="426.10" font-size="10" fill="#2e3038" font-weight="normal" text-anchor="start" stroke="#2e3038" stroke-width="0.12" textLength="16.30" lengthAdjust="spacingAndGlyphs">Feb</text>
<text x="603.00" y="426.10" font-size="10" fill="#2e3038" font-weight="normal" text-anchor="start" stroke="#2e3038" stroke-width="0.12" textLength="9.50" lengthAdjust="spacingAndGlyphs">14</text>
<text x="685.52" y="426.10" font-size="10" fill="#2e3038" font-weight="normal" text-anchor="start" stroke="#2e3038" stroke-width="0.12" textLength="15.75" lengthAdjust="spacingAndGlyphs">Mar</text>
<text x="760.00" y="426.10" font-size="10" fill="#2e3038" font-weight="normal" text-anchor="start" stroke="#2e3038" stroke-width="0.12" textLength="9.50" lengthAdjust="spacingAndGlyphs">14</text>
<text x="851.25" y="426.10" font-size="10" fill="#2e3038" font-weight="normal" text-anchor="start" stroke="#2e3038" stroke-width="0.12" textLength="15.00" lengthAdjust="spacingAndGlyphs">Apr</text>
<text x="925.00" y="426.10" font-size="10" fill="#2e3038" font-weight="normal" text-anchor="start" stroke="#2e3038" stroke-width="0.12" textLength="10.00" lengthAdjust="spacingAndGlyphs">14</text>
<g fill="#131722"><path d="M8.5 445.1H15.1V453.3H11.6V448.3H8.5Z"/><circle cx="17.9" cy="446.7" r="1.6"/><path d="M20.9 445.1H24.9L21.6 453.3H17.7Z"/></g>
<text x="28.50" y="453.30" font-size="10.6" fill="#131722" font-weight="normal" text-anchor="start" stroke="#131722" stroke-width="0.12" textLength="60.40" lengthAdjust="spacingAndGlyphs">TradingView</text>
</svg></body></html>
